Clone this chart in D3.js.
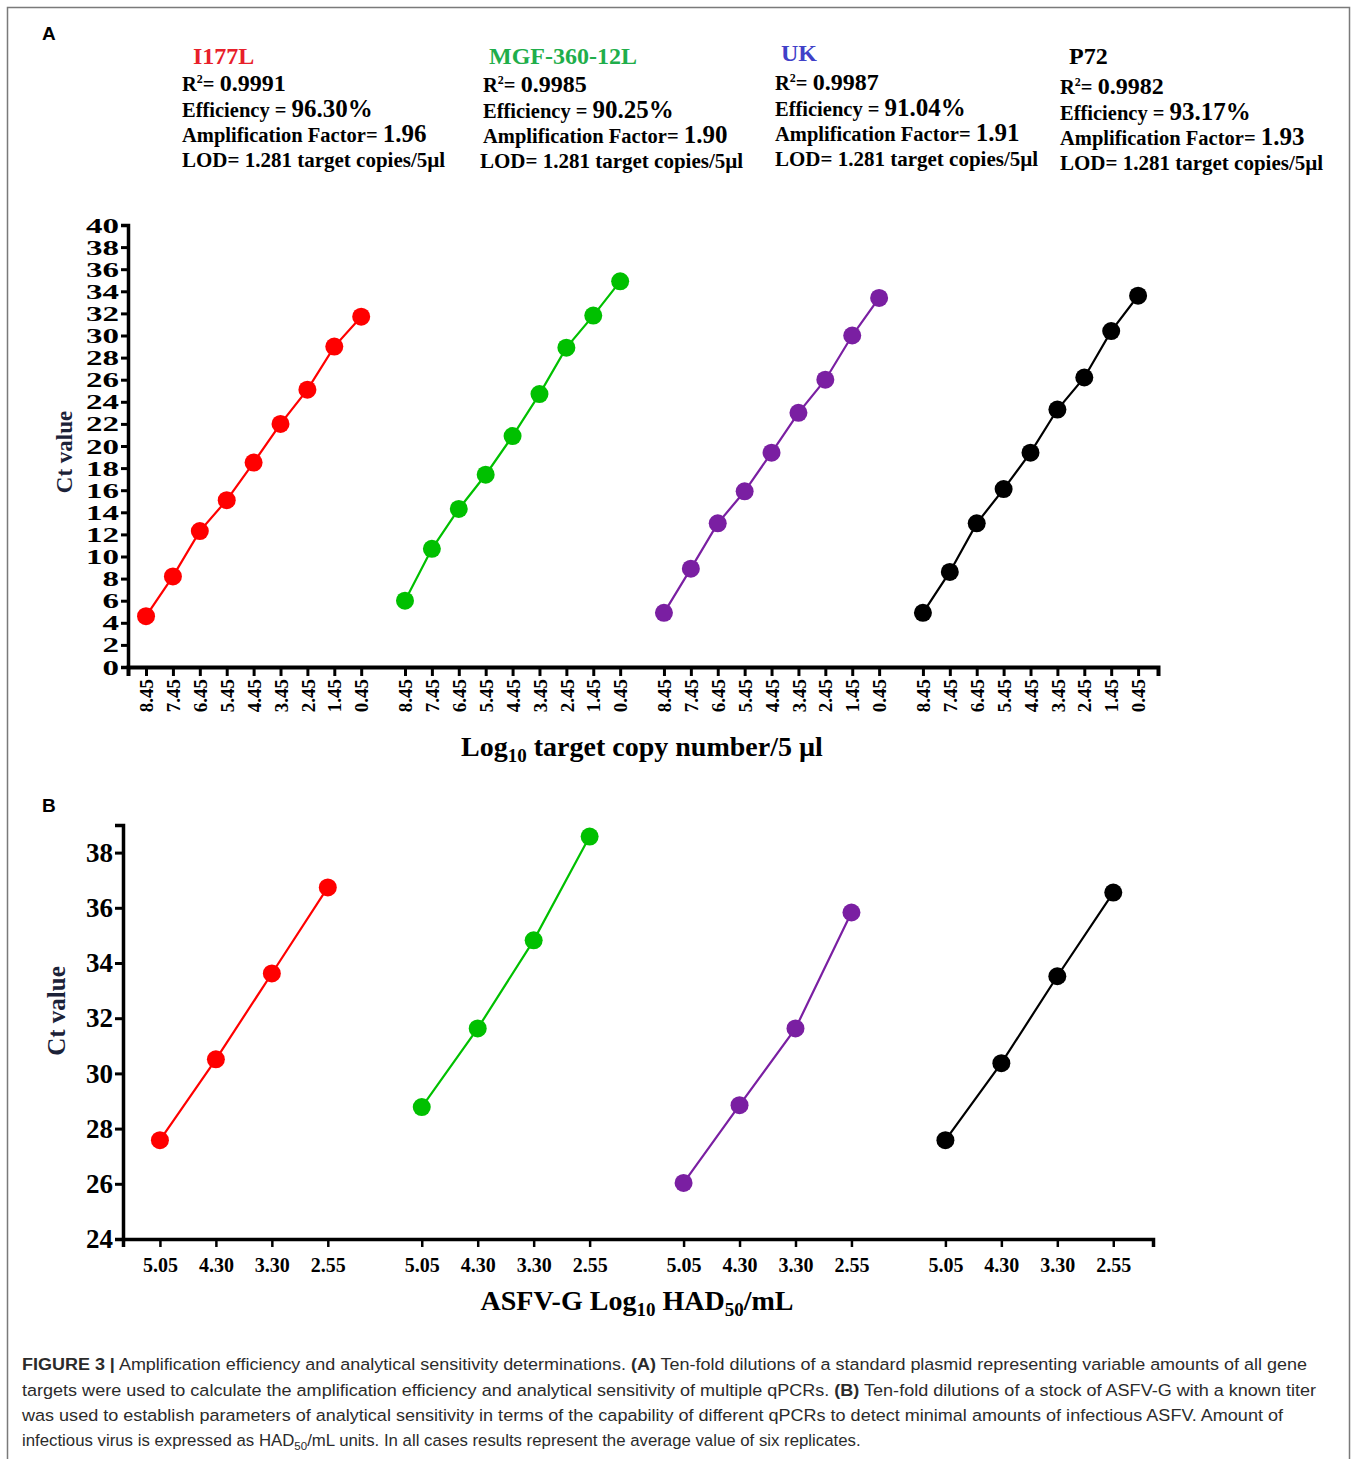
<!DOCTYPE html>
<html><head><meta charset="utf-8">
<script src="https://cdn.jsdelivr.net/npm/d3@7/dist/d3.min.js"></script>
<style>
body{margin:0;background:#fff;}
svg{display:block;}
</style></head>
<body>
<svg id="c" width="1357" height="1459"></svg>
<script>
// ---------- DATA ----------
const genes = ["I177L", "MGF-360-12L", "UK", "P72"];
const lineColors = ["#ff0000", "#00c000", "#7a1fa2", "#000000"];
const titleColors = ["#e8202a", "#1fae4b", "#4040c8", "#000000"];
const r2 = ["0.9991", "0.9985", "0.9987", "0.9982"];
const efficiency = ["96.30%", "90.25%", "91.04%", "93.17%"];
const ampFactor = ["1.96", "1.90", "1.91", "1.93"];
const lod = ["1.281", "1.281", "1.281", "1.281"];

const copyLabels = ["8.45", "7.45", "6.45", "5.45", "4.45", "3.45", "2.45", "1.45", "0.45"];
const ctA_I177L = [4.6, 8.2, 12.3, 15.1, 18.5, 22.0, 25.1, 29.0, 31.7];
const ctA_MGF   = [6.0, 10.7, 14.3, 17.4, 20.9, 24.7, 28.9, 31.8, 34.9];
const ctA_UK    = [4.9, 8.9, 13.0, 15.9, 19.4, 23.0, 26.0, 30.0, 33.4];
const ctA_P72   = [4.9, 8.6, 13.0, 16.1, 19.4, 23.3, 26.2, 30.4, 33.6];
const ctA = [ctA_I177L, ctA_MGF, ctA_UK, ctA_P72];
const yTicksA = d3.range(0, 41, 2);

const hadLabels = ["5.05", "4.30", "3.30", "2.55"];
const ctB_I177L = [27.58, 30.51, 33.62, 36.74];
const ctB_MGF   = [28.78, 31.63, 34.82, 38.58];
const ctB_UK    = [26.03, 28.85, 31.63, 35.83];
const ctB_P72   = [27.58, 30.37, 33.52, 36.55];
const ctB = [ctB_I177L, ctB_MGF, ctB_UK, ctB_P72];
const yTicksB = [24, 26, 28, 30, 32, 34, 36, 38];

// ---------- LAYOUT ----------
const svg = d3.select("#c");
const SERIF = "'Liberation Serif','Times New Roman',serif";
const SANS = "'Liberation Sans',Arial,sans-serif";

svg.append("rect").attr("x", 7.5).attr("y", 7.5).attr("width", 1342).attr("height", 1470)
  .attr("fill", "none").attr("stroke", "#7a7a7a").attr("stroke-width", 1.5);

// Panel letters
svg.append("text").attr("x", 42).attr("y", 40).text("A")
  .attr("font-family", SANS).attr("font-weight", "bold").attr("font-size", 19);
svg.append("text").attr("x", 42).attr("y", 812).text("B")
  .attr("font-family", SANS).attr("font-weight", "bold").attr("font-size", 19);

// ---------- Annotations ----------
const annX = [182, 483, 775, 1060];
const titleDx = [11, 6, 6, 9];
const annY0 = [0, 1, -1, 3];
const BASE = 20.5, BIG = 25;
genes.forEach((g, k) => {
  const x = annX[k], dy = annY0[k];
  const grp = svg.append("g").attr("font-family", SERIF).attr("font-weight", "bold").attr("fill", "#000");
  grp.append("text").attr("x", x + titleDx[k]).attr("y", 64 + (k === 2 ? -3 : 0)).attr("font-size", 24)
    .attr("fill", titleColors[k]).text(g);
  const t1 = grp.append("text").attr("x", x).attr("y", 91 + dy);
  t1.append("tspan").attr("font-size", BASE).text("R");
  t1.append("tspan").attr("font-size", 12).attr("dy", -8).text("2");
  t1.append("tspan").attr("font-size", BASE).attr("dy", 8).text("= ");
  t1.append("tspan").attr("font-size", BIG - 1).text(r2[k]);
  const t2 = grp.append("text").attr("x", x).attr("y", 117 + dy);
  t2.append("tspan").attr("font-size", BASE).text("Efficiency = ");
  t2.append("tspan").attr("font-size", BIG).text(efficiency[k]);
  const t3 = grp.append("text").attr("x", x).attr("y", 142 + dy);
  t3.append("tspan").attr("font-size", BASE).text("Amplification Factor= ");
  t3.append("tspan").attr("font-size", BIG).text(ampFactor[k]);
  const t4 = grp.append("text").attr("x", x - (k === 1 ? 3 : 0)).attr("y", 167 + dy);
  t4.append("tspan").attr("font-size", 21).text("LOD= ");
  t4.append("tspan").attr("font-size", 21).text(lod[k] + " target copies/5µl");
});

// ---------- Panel A ----------
const GA = 9.628; // slot step between gene groups
const slotA = (g, i) => g * GA + i;
const xA = d3.scaleLinear().domain([-0.67, 3 * GA + 8 + 0.74]).range([128, 1158]);
const yA = d3.scaleLinear().domain([0, 40]).range([667, 225]);

const gA = svg.append("g");
ctA.forEach((vals, g) => {
  const pts = vals.map((v, i) => [xA(slotA(g, i)), yA(v)]);
  gA.append("path").attr("d", d3.line()(pts)).attr("fill", "none")
    .attr("stroke", lineColors[g]).attr("stroke-width", 2.2);
  gA.selectAll(null).data(vals).enter().append("circle")
    .attr("cx", (v, i) => xA(slotA(g, i))).attr("cy", v => yA(v)).attr("r", 9)
    .attr("fill", lineColors[g]);
});

const tickSlotsA = [];
genes.forEach((g, gi) => copyLabels.forEach((l, i) => tickSlotsA.push({ s: slotA(gi, i), l })));
const axXA = gA.append("g").attr("transform", "translate(0,667)")
  .call(d3.axisBottom(xA).tickValues(tickSlotsA.map(d => d.s))
    .tickFormat((d, i) => tickSlotsA[i].l).tickSizeOuter(0).tickSize(9));
axXA.select(".domain").attr("stroke-width", 4);
axXA.selectAll(".tick line").attr("stroke-width", 3);
axXA.selectAll(".tick text").attr("font-family", SERIF).attr("font-weight", "bold").attr("font-size", 19)
  .attr("fill", "#000").attr("transform", "rotate(-90)").attr("text-anchor", "end")
  .attr("x", -12).attr("y", 0).attr("dy", "0.35em");

const axYA = gA.append("g").attr("transform", "translate(128,0)")
  .call(d3.axisLeft(yA).tickValues(yTicksA).tickSizeOuter(0).tickSize(7));
axYA.select(".domain").attr("stroke-width", 3.5);
axYA.selectAll(".tick line").attr("stroke-width", 3);
axYA.selectAll(".tick text").attr("font-family", SERIF).attr("font-weight", "bold").attr("font-size", 22)
  .attr("fill", "#000").attr("x", null).attr("text-anchor", "end")
  .attr("transform", "translate(-9,0) scale(1.5,1)");

svg.append("text").attr("transform", "translate(72,452) rotate(-90)").attr("text-anchor", "middle")
  .attr("font-family", SERIF).attr("font-weight", "bold").attr("font-size", 23).attr("fill", "#1c2238")
  .text("Ct value");

const tA = svg.append("text").attr("x", 642).attr("y", 756).attr("text-anchor", "middle")
  .attr("font-family", SERIF).attr("font-weight", "bold").attr("font-size", 28);
tA.append("tspan").text("Log");
tA.append("tspan").attr("font-size", 19).attr("dy", 6).text("10");
tA.append("tspan").attr("dy", -6).text(" target copy number/5 µl");

// ---------- Panel B ----------
const GB = 4.679;
const slotB = (g, i) => g * GB + i;
const xB = d3.scaleLinear().domain([-0.66, 3 * GB + 3 + 0.71]).range([123, 1153]);
const yB = d3.scaleLinear().domain([24, 39]).range([1239, 825]);
const gB = svg.append("g");
ctB.forEach((vals, g) => {
  const pts = vals.map((v, i) => [xB(slotB(g, i)), yB(v)]);
  gB.append("path").attr("d", d3.line()(pts)).attr("fill", "none")
    .attr("stroke", lineColors[g]).attr("stroke-width", 2.2);
  gB.selectAll(null).data(vals).enter().append("circle")
    .attr("cx", (v, i) => xB(slotB(g, i))).attr("cy", v => yB(v)).attr("r", 9)
    .attr("fill", lineColors[g]);
});
const tickSlotsB = [];
genes.forEach((g, gi) => hadLabels.forEach((l, i) => tickSlotsB.push({ s: slotB(gi, i), l })));
const axXB = gB.append("g").attr("transform", "translate(0,1239)")
  .call(d3.axisBottom(xB).tickValues(tickSlotsB.map(d => d.s))
    .tickFormat((d, i) => tickSlotsB[i].l).tickSizeOuter(0).tickSize(8));
axXB.select(".domain").attr("stroke-width", 3.5);
axXB.selectAll(".tick line").attr("stroke-width", 2.5);
axXB.selectAll(".tick text").attr("font-family", SERIF).attr("font-weight", "bold").attr("font-size", 20)
  .attr("fill", "#000").attr("y", 33).attr("dy", 0);

const axYB = gB.append("g").attr("transform", "translate(123,0)")
  .call(d3.axisLeft(yB).tickValues(yTicksB).tickSizeOuter(0).tickSize(8));
axYB.select(".domain").attr("stroke-width", 3.5);
axYB.selectAll(".tick line").attr("stroke-width", 3);
axYB.selectAll(".tick text").attr("font-family", SERIF).attr("font-weight", "bold").attr("font-size", 27)
  .attr("fill", "#000").attr("x", -10);

svg.append("text").attr("transform", "translate(65,1011) rotate(-90)").attr("text-anchor", "middle")
  .attr("font-family", SERIF).attr("font-weight", "bold").attr("font-size", 25).attr("fill", "#1c2238")
  .text("Ct value");

const tB = svg.append("text").attr("x", 637).attr("y", 1310).attr("text-anchor", "middle")
  .attr("font-family", SERIF).attr("font-weight", "bold").attr("font-size", 28);
tB.append("tspan").text("ASFV-G Log");
tB.append("tspan").attr("font-size", 19).attr("dy", 6).text("10");
tB.append("tspan").attr("dy", -6).text(" HAD");
tB.append("tspan").attr("font-size", 19).attr("dy", 6).text("50");
tB.append("tspan").attr("dy", -6).text("/mL");

// ---------- Caption ----------
const cap = [
  { y: 1370, len: 1285, parts: [["b", "FIGURE 3 |"], ["n", " Amplification efficiency and analytical sensitivity determinations. "], ["b", "(A)"], ["n", " Ten-fold dilutions of a standard plasmid representing variable amounts of all gene"]] },
  { y: 1396, len: 1294, parts: [["n", "targets were used to calculate the amplification efficiency and analytical sensitivity of multiple qPCRs. "], ["b", "(B)"], ["n", " Ten-fold dilutions of a stock of ASFV-G with a known titer"]] },
  { y: 1421, len: 1261, parts: [["n", "was used to establish parameters of analytical sensitivity in terms of the capability of different qPCRs to detect minimal amounts of infectious ASFV. Amount of"]] },
  { y: 1446, len: null, parts: [["n", "infectious virus is expressed as HAD"], ["s", "50"], ["n", "/mL units. In all cases results represent the average value of six replicates."]] }
];
cap.forEach(line => {
  const t = svg.append("text").attr("x", 22).attr("y", line.y).attr("font-family", SANS)
    .attr("font-size", 16.8).attr("fill", "#2b2b2b");
  if (line.len) t.attr("textLength", line.len).attr("lengthAdjust", "spacingAndGlyphs");
  let sub = false;
  line.parts.forEach(([k, s]) => {
    const ts = t.append("tspan").text(s);
    if (k === "b") ts.attr("font-weight", "bold");
    if (k === "s") { ts.attr("font-size", 11.5).attr("dy", 4); sub = true; }
    else if (sub) { ts.attr("dy", -4); sub = false; }
  });
});
</script>
</body></html>
